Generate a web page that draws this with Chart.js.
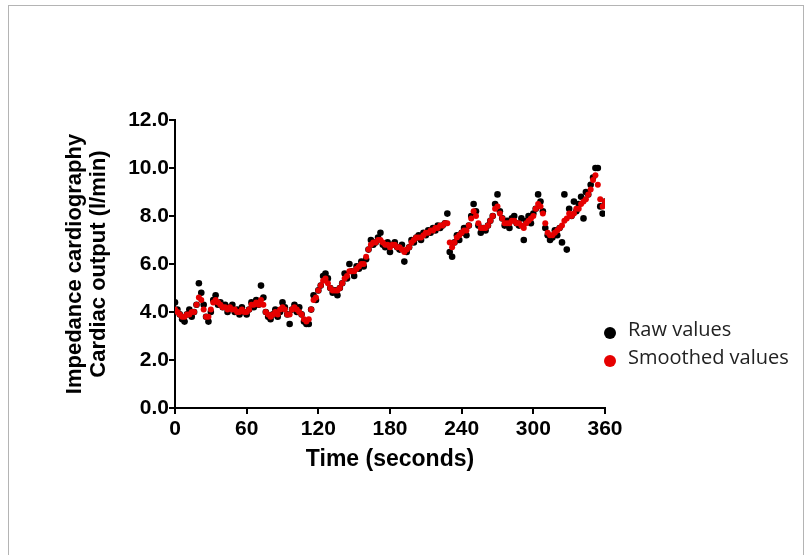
<!DOCTYPE html>
<html>
<head>
<meta charset="utf-8">
<script src="https://cdn.jsdelivr.net/npm/chart.js@4.4.1/dist/chart.umd.min.js"></script>
<style>
    body { margin: 0; background: #fff; }
    #wrap { position: relative; width: 811px; height: 555px; overflow: hidden; }
    #frame { position: absolute; left: 8px; top: 5px; width: 794px; height: 600px; border: 1px solid #b4b4b4; }
    #chart { position: absolute; left: 0; top: 0; }
    .legend-item { position: absolute; left: 604px; font-family: "Open Sans", sans-serif; font-size: 20px; color: #222; white-space: nowrap; }
    .legend-item .dot { position: absolute; left: 0; top: 9px; width: 12px; height: 12px; border-radius: 50%; }
    .legend-item span.txt { position: absolute; left: 24px; top: -3px; }
</style>
</head>
<body>
<div id="wrap">
    <div id="frame"></div>
    <canvas id="chart" width="811" height="555"></canvas>
    <div id="legend"></div>
</div>
<script>
// sample spacing of the recording (seconds)
const sampleStep = 2;

const xTicks = [0, 60, 120, 180, 240, 300, 360];
const yTicks = [0, 2, 4, 6, 8, 10, 12];

const seriesNames = ['Raw values', 'Smoothed values'];
const seriesColors = ['#000000', '#e60000'];

// raw cardiac output, one value every 2 s from 0 to 360 s
const rawValues = [
    4.4, 4.1, 3.9, 3.7, 3.6, 3.9, 4.1, 3.8, 4.0, 4.3,
    5.2, 4.8, 4.3, 3.8, 3.6, 4.0, 4.5, 4.7, 4.3, 4.4,
    4.2, 4.3, 4.0, 4.2, 4.3, 4.0, 4.1, 3.9, 4.2, 4.0,
    3.9, 4.1, 4.4, 4.2, 4.5, 4.3, 5.1, 4.6, 4.0, 3.8,
    3.7, 3.9, 4.1, 3.8, 4.0, 4.4, 4.2, 3.9, 3.5, 4.1,
    4.3, 4.0, 4.2, 3.9, 3.6, 3.5, 3.5, 4.1, 4.7, 4.5,
    4.9, 5.1, 5.5, 5.6, 5.4, 5.0, 4.8, 4.9, 4.7, 5.0,
    5.2, 5.6, 5.4, 6.0, 5.7, 5.5, 5.9, 5.8, 6.1, 5.9,
    6.2, 6.6, 7.0, 6.8, 6.9, 7.1, 7.3, 6.8, 6.7, 6.9,
    6.5, 6.8, 6.9, 6.7, 6.6, 6.8, 6.1, 6.5, 6.7, 7.0,
    6.9, 7.1, 7.2, 7.0, 7.3, 7.2, 7.4, 7.3, 7.5, 7.4,
    7.6, 7.5, 7.6, 7.7, 8.1, 6.5, 6.3, 6.9, 7.2, 7.0,
    7.3, 7.5, 7.2, 7.6, 8.0, 8.5, 8.2, 7.6, 7.3, 7.5,
    7.4, 7.6, 7.8, 8.0, 8.5, 8.9, 8.2, 7.9, 7.6, 7.8,
    7.5, 7.9, 8.0, 7.7, 7.6, 7.9, 7.0, 7.8, 8.0, 7.7,
    8.1, 8.3, 8.9, 8.6, 8.2, 7.5, 7.2, 7.0, 7.1, 7.4,
    7.2, 7.5, 6.9, 8.9, 6.6, 8.3, 8.0, 8.6, 8.2, 8.5,
    8.8, 7.9, 9.0, 8.9, 9.3, 9.6, 10.0, 10.0, 8.4, 8.1,
    8.6
];

// smoothed cardiac output, same time points
const smoothedValues = [
    4.1, 4.0, 3.9, 3.8, 3.8, 3.9, 3.9, 4.0, 4.0, 4.3,
    4.6, 4.5, 4.1, 3.8, 3.8, 4.1, 4.4, 4.5, 4.4, 4.3,
    4.2, 4.2, 4.1, 4.2, 4.1, 4.1, 4.0, 4.0, 4.1, 4.0,
    4.0, 4.1, 4.3, 4.3, 4.4, 4.3, 4.5, 4.3, 4.0, 3.9,
    3.8, 3.9, 4.0, 3.9, 4.1, 4.2, 4.1, 3.9, 3.9, 4.1,
    4.2, 4.1, 4.0, 3.9, 3.7, 3.6, 3.7, 4.1, 4.5, 4.6,
    4.9, 5.1, 5.3, 5.4, 5.2, 5.0, 4.9, 4.9, 4.9, 5.0,
    5.2, 5.4, 5.5, 5.7, 5.7, 5.7, 5.8, 5.9, 6.0, 6.0,
    6.3, 6.6, 6.8, 6.9, 6.9, 7.0, 7.0, 6.9, 6.8, 6.8,
    6.7, 6.8, 6.8, 6.7, 6.7, 6.6, 6.5, 6.6, 6.7, 6.9,
    7.0, 7.1, 7.1, 7.1, 7.2, 7.3, 7.3, 7.4, 7.4, 7.5,
    7.5, 7.6, 7.6, 7.7, 7.7, 6.9, 6.7, 6.9, 7.1, 7.2,
    7.3, 7.4, 7.4, 7.6, 7.9, 8.2, 8.0, 7.7, 7.5, 7.5,
    7.5, 7.6, 7.8, 8.0, 8.3, 8.4, 8.1, 7.9, 7.7, 7.7,
    7.7, 7.8, 7.8, 7.7, 7.7, 7.6, 7.5, 7.7, 7.8, 7.9,
    8.0, 8.3, 8.5, 8.4, 8.1, 7.7, 7.3, 7.2, 7.2, 7.3,
    7.4, 7.5, 7.6, 7.8, 7.9, 8.1, 8.0, 8.1, 8.3, 8.3,
    8.5, 8.6, 8.7, 8.9, 9.1, 9.5, 9.7, 9.3, 8.7, 8.4,
    8.6
];

const toPoints = (values) => values.map((v, i) => ({ x: i * sampleStep, y: v }));

const axisFont = { family: '"Liberation Sans", Arial, sans-serif', size: 21, weight: 'bold' };

new Chart(document.getElementById('chart'), {
    type: 'scatter',
    data: {
        datasets: [
            {
                label: seriesNames[0],
                data: toPoints(rawValues),
                backgroundColor: seriesColors[0],
                borderWidth: 0,
                pointRadius: 3.3,
                order: 1
            },
            {
                label: seriesNames[1],
                data: toPoints(smoothedValues),
                backgroundColor: seriesColors[1],
                borderWidth: 0,
                pointRadius: 3,
                order: 0
            }
        ]
    },
    options: {
        responsive: false,
        animation: false,
        layout: { padding: { left: 0, top: 120, right: 206, bottom: 82 } },
        plugins: {
            legend: { display: false },
            tooltip: { enabled: false }
        },
        scales: {
            x: {
                type: 'linear',
                min: 0,
                max: 360,
                afterFit: (scale) => { scale.height = 65; },
                afterBuildTicks: (scale) => { scale.ticks = xTicks.map(v => ({ value: v })); },
                border: { color: '#000', width: 2 },
                grid: { drawOnChartArea: false, color: '#000', lineWidth: 2, tickLength: 6 },
                ticks: { color: '#000', font: axisFont, padding: 3, maxRotation: 0 },
                title: {
                    display: true,
                    text: 'Time (seconds)',
                    color: '#000',
                    font: { family: '"Liberation Sans", Arial, sans-serif', size: 23, weight: 'bold' },
                    padding: 0
                }
            },
            y: {
                min: 0,
                max: 12,
                afterFit: (scale) => { scale.width = 175; },
                afterBuildTicks: (scale) => { scale.ticks = yTicks.map(v => ({ value: v })); },
                border: { color: '#000', width: 2 },
                grid: { drawOnChartArea: false, color: '#000', lineWidth: 2, tickLength: 6 },
                ticks: {
                    color: '#000',
                    font: axisFont,
                    padding: 0,
                    callback: (v) => Number(v).toFixed(1)
                },
                title: {
                    display: true,
                    text: ['Impedance cardiography', 'Cardiac output (l/min)'],
                    color: '#000',
                    font: { family: '"Liberation Sans", Arial, sans-serif', size: 22, weight: 'bold', lineHeight: 1.1 },
                    padding: { top: 63, bottom: 0 }
                }
            }
        }
    }
});

// legend to the right of the plot
const legendTops = [318, 346];
const legendEl = document.getElementById('legend');
seriesNames.forEach((name, i) => {
    const item = document.createElement('div');
    item.className = 'legend-item';
    item.style.top = legendTops[i] + 'px';
    item.innerHTML = '<div class="dot" style="background:' + seriesColors[i] + '"></div><span class="txt">' + name + '</span>';
    legendEl.appendChild(item);
});
</script>
</body>
</html>
